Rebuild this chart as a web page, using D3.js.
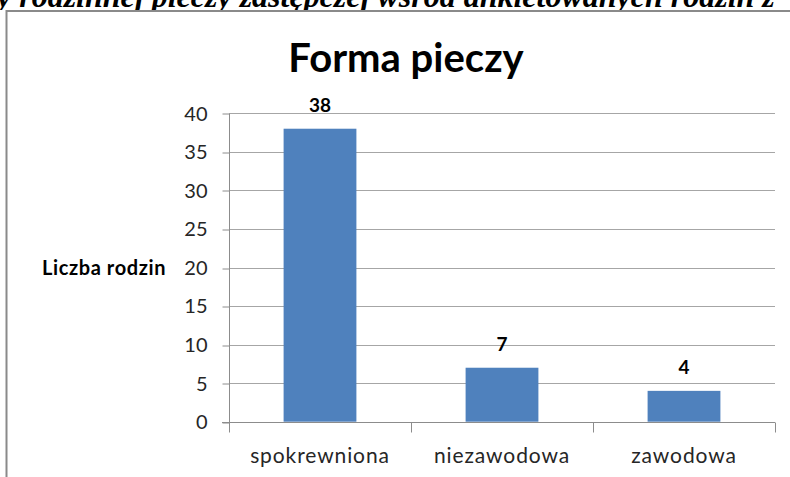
<!DOCTYPE html>
<html><head><meta charset="utf-8">
<script src="https://cdn.jsdelivr.net/npm/d3@7"></script>
<style>body{margin:0;background:#fff}svg{display:block}</style>
</head><body>
<svg id="c" width="790" height="477"></svg>
<script>
const categories = ["spokrewniona", "niezawodowa", "zawodowa"];
const values = [38, 7, 4];
const yTicks = [0, 5, 10, 15, 20, 25, 30, 35, 40];
const titleText = "Forma pieczy";
const yAxisLabel = "Liczba rodzin";
const headerText = "y rodzinnej pieczy zastępczej wśród ankietowanych rodzin z";

const svg = d3.select("#c");
const W = 790, H = 477;
const m = {left: 229, right: 775, top: 113.3, bottom: 421.7};

// cut-off header text from the document
svg.append("text").attr("x", -3).attr("y", 7)
  .attr("font-family", "Liberation Serif").attr("font-style", "italic").attr("font-weight", "bold")
  .attr("font-size", 32).attr("fill", "#000").text(headerText);

// frame
svg.append("rect").attr("x", 0).attr("y", 10).attr("width", W).attr("height", H).attr("fill", "#fff");
svg.append("path").attr("d", `M6.5,${H} V11 H${W}`).attr("fill", "none")
  .attr("stroke", "#8a8a8a").attr("stroke-width", 2);

const x = d3.scaleBand().domain(categories).range([m.left, m.right]).paddingInner(0.6).paddingOuter(0.3);
const xb = d3.scaleBand().domain(categories).range([m.left, m.right]).padding(0);
const y = d3.scaleLinear().domain([0, 40]).range([m.bottom, m.top]);

// gridlines
svg.append("g").selectAll("line").data(yTicks.filter(d => d > 0)).join("line")
  .attr("x1", m.left).attr("x2", m.right)
  .attr("y1", d => Math.round(y(d)) + 0.5).attr("y2", d => Math.round(y(d)) + 0.5)
  .attr("stroke", "#a6a6a6").attr("stroke-width", 1);

// y axis
const yAxis = d3.axisLeft(y).tickValues(yTicks).tickSize(7).tickPadding(15);
const gy = svg.append("g").attr("transform", `translate(${m.left + 0.5},0.5)`).call(yAxis);
gy.select(".domain").attr("stroke", "#8c8c8c").attr("d", `M0,${m.top} V${m.bottom + 9}`);
gy.selectAll(".tick line").attr("stroke", "#8c8c8c").attr("x1", 0).attr("x2", -7)
  .attr("transform", d => `translate(0,${Math.round(y(d)) - y(d)})`);
gy.selectAll(".tick text").attr("font-family", "Lato").attr("font-size", 20).attr("fill", "#262626");

// x axis line and boundary ticks
const gx = svg.append("g").attr("transform", `translate(0,${Math.round(m.bottom) + 0.5})`);
gx.append("line").attr("x1", m.left - 7).attr("x2", m.right).attr("stroke", "#8c8c8c");
const bounds = categories.map(c => xb(c)).concat([m.right]);
gx.selectAll("line.t").data(bounds).join("line").attr("class", "t")
  .attr("x1", d => Math.round(d) + 0.5).attr("x2", d => Math.round(d) + 0.5)
  .attr("y1", 0).attr("y2", 10).attr("stroke", "#8c8c8c");
gx.selectAll("text").data(categories).join("text")
  .attr("x", d => xb(d) + xb.bandwidth() / 2).attr("y", 40)
  .attr("text-anchor", "middle").attr("font-family", "Lato").attr("font-size", 21)
  .attr("letter-spacing", 0.9)
  .attr("fill", "#262626").text(d => d);

// bars
svg.append("g").selectAll("rect").data(values).join("rect")
  .attr("x", (d, i) => x(categories[i])).attr("width", x.bandwidth())
  .attr("y", d => y(d)).attr("height", d => y(0) - y(d))
  .attr("fill", "#4f81bd");

// data labels
svg.append("g").selectAll("text").data(values).join("text")
  .attr("x", (d, i) => x(categories[i]) + x.bandwidth() / 2).attr("y", d => y(d) - 17)
  .attr("text-anchor", "middle").attr("font-family", "Lato").attr("font-weight", "bold")
  .attr("font-size", 19).attr("fill", "#000").text(d => d);

// title
svg.append("text").attr("x", 406).attr("y", 72).attr("text-anchor", "middle")
  .attr("font-family", "Lato").attr("font-weight", "bold").attr("font-size", 40)
  .attr("fill", "#000").text(titleText);

// y axis label
svg.append("text").attr("x", 42).attr("y", 275)
  .attr("font-family", "Lato").attr("font-weight", "bold").attr("font-size", 20)
  .attr("letter-spacing", 0.6)
  .attr("fill", "#000").text(yAxisLabel);
</script>
</body></html>
